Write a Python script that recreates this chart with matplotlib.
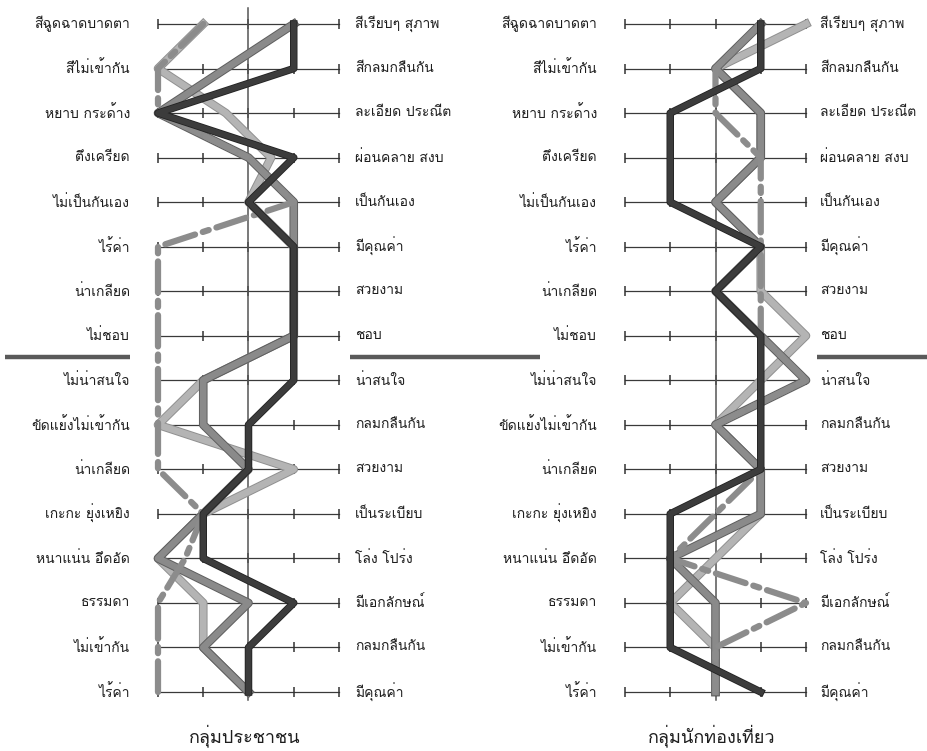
import matplotlib
matplotlib.use('Agg')
import matplotlib.pyplot as plt
import matplotlib.patheffects as pe
from matplotlib import font_manager
from matplotlib.ft2font import FT2Font

# คำคุณศัพท์ด้านซ้าย/ขวาของแต่ละแถว
left_words = ['สีฉูดฉาดบาดตา', 'สีไม่เข้ากัน', 'หยาบ กระด้าง', 'ตึงเครียด',
              'ไม่เป็นกันเอง', 'ไร้ค่า', 'น่าเกลียด', 'ไม่ชอบ',
              'ไม่น่าสนใจ', 'ขัดแย้งไม่เข้ากัน', 'น่าเกลียด', 'เกะกะ ยุ่งเหยิง',
              'หนาแน่น อึดอัด', 'ธรรมดา', 'ไม่เข้ากัน', 'ไร้ค่า']
right_words = ['สีเรียบๆ สุภาพ', 'สีกลมกลืนกัน', 'ละเอียด ประณีต', 'ผ่อนคลาย สงบ',
               'เป็นกันเอง', 'มีคุณค่า', 'สวยงาม', 'ชอบ',
               'น่าสนใจ', 'กลมกลืนกัน', 'สวยงาม', 'เป็นระเบียบ',
               'โล่ง โปร่ง', 'มีเอกลักษณ์', 'กลมกลืนกัน', 'มีคุณค่า']
titles = ['กลุ่มประชาชน', 'กลุ่มนักท่องเที่ยว']
scale = [1, 2, 3, 4, 5]
rows = list(range(1, 17))

# ค่าเฉลี่ยของแต่ละกลุ่มย่อย (อ่านจากภาพ)
pub_dark = [4, 4, 1, 4, 3, 4, 4, 4, 4, 3, 3, 2, 2, 4, 3, 3]
pub_mid = [4, 2.5, 1, 3, 4, 4, 4, 4, 2, 2, 3, 2, 1, 3, 2, 3]
pub_light = [2, 1, 2.5, 3.5, 3, 4, 4, 4, 2, 1, 4, 2, 1, 2, 2, 3]
pub_dash = [2, 1, 1, 3, 4, 1, 1, 1, 1, 1, 1, 2, 1.6, 1, 1, 1]

tour_dark = [4, 4, 2, 2, 2, 4, 3, 4, 4, 4, 4, 2, 2, 2, 2, 4]
tour_mid = [4, 3, 4, 4, 3, 4, 3, 4, 5, 3, 4, 4, 2, 3, 3, 3]
tour_light = [5, 3, 4, 4, 3, 4, 4, 5, 4, 3, 4, 4, 3, 2, 3, 3]
tour_dash = [4, 3, 3, 4, 4, 4, 4, 4, 5, 3, 4, 3, 2, 5, 3, 3]


def thai_font():
    # หาฟอนต์ที่มีอักษรไทย
    for f in font_manager.fontManager.ttflist:
        try:
            if 0x0E01 in FT2Font(f.fname).get_charmap():
                return f.name
        except Exception:
            pass
    return 'DejaVu Sans'


plt.rcParams['font.family'] = [thai_font(), 'DejaVu Sans']

fig = plt.figure(figsize=(9.28, 7.51), dpi=100)
W, H = 928, 751
unit_x = 181 / 4
unit_y = 668 / 15


def panel_axes(x1):
    left = x1 - unit_x / 2
    top = 24 - unit_y / 2
    return fig.add_axes([left / W, 1 - (top + 16 * unit_y) / H,
                         5 * unit_x / W, 16 * unit_y / H])


def draw_panel(ax, dark, mid, light, dash, vtop, title):
    ax.set_xlim(0.5, 5.5)
    ax.set_ylim(16.5, 0.5)
    ax.axis('off')
    for r in rows:
        ax.plot([1, 5], [r, r], color='#3a3a3a', lw=0.9)
        ax.plot(scale, [r] * 5, ls='none', marker='|', ms=7, mew=1.1, color='#333')
    ax.plot([3, 3], [vtop, 16.18], color='#555', lw=1.1)

    ax.plot(light, rows, color='#b4b4b4', lw=4.8, solid_joinstyle='round',
            path_effects=[pe.Stroke(linewidth=6.2, foreground='#909090'), pe.Normal()])
    ax.plot(mid, rows, color='#8a8a8a', lw=4.8, solid_joinstyle='round',
            path_effects=[pe.Stroke(linewidth=6.2, foreground='#5e5e5e'), pe.Normal()])
    ax.plot(dash, rows, color='#8c8c8c', lw=4.5, ls=(0, (5, 1.3, 1, 1.3)),
            dash_capstyle='round')
    ax.plot(dark, rows, color='#3c3c3c', lw=4.2, solid_joinstyle='round',
            path_effects=[pe.Stroke(linewidth=5.4, foreground='#222'), pe.Normal()])

    for r, w in zip(rows, left_words):
        ax.text(0.38, r, w, ha='right', va='center', fontsize=10, color='#1e1e1e')
    ax.text(2.92, 16.97, title, ha='center', va='center', fontsize=13, color='#1e1e1e')


ax1 = panel_axes(158)
ax2 = panel_axes(625)
draw_panel(ax1, pub_dark, pub_mid, pub_light, pub_dash, 0.64, titles[0])
draw_panel(ax2, tour_dark, tour_mid, tour_light, tour_dash, 2.55, titles[1])
for ax, xr in ((ax1, 5.35), (ax2, 5.31)):
    for r, w in zip(rows, right_words):
        ax.text(xr, r, w, ha='left', va='center', fontsize=10, color='#1e1e1e')

# เส้นคั่นระหว่างสองชุดคำถาม
sep = dict(color='#5a5a5a', lw=3.2, solid_capstyle='butt', clip_on=False)
ax1.plot([-2.38, 0.38], [8.48, 8.48], **sep)
ax1.plot([5.24, 9.44], [8.48, 8.48], **sep)
ax2.plot([5.24, 7.8], [8.48, 8.48], **sep)

fig.savefig('out.png', dpi=100)
